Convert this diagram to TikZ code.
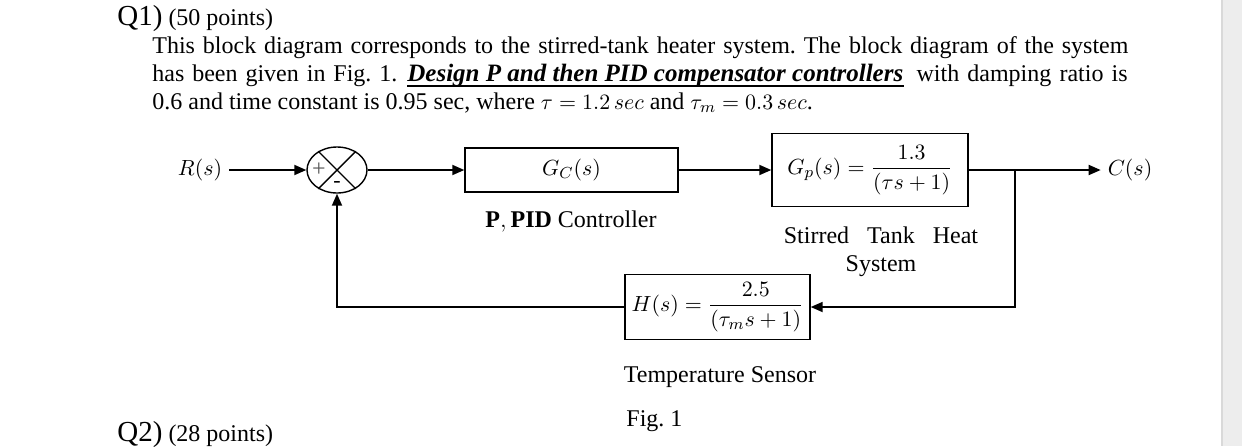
\documentclass[tikz,border=0pt]{standalone}
\usepackage{amsmath}
\usepackage{fontspec}
\setmainfont{Liberation Serif}
\usetikzlibrary{arrows.meta, positioning, shapes}
\frenchspacing

\begin{document}
\begin{tikzpicture}[x=0.5pt, y=-0.5pt, >={Triangle[length=6pt, width=5pt]},
  every node/.style={font=\fontsize{12}{14}\selectfont},
  txt/.style={anchor=base west, inner sep=0pt},
  block/.style={draw, line width=0.7pt, inner sep=2pt, font=\fontsize{11}{13}\selectfont},
  wire/.style={line width=0.9pt}]
\useasboundingbox (0,0) rectangle (1242,446);
\fill[black!7] (1222,0) rectangle (1242,446);
\draw[black!15, line width=0.6pt] (1222,0) -- (1222,446);

% question text
\node[txt] (q1) at (117,25) {{\fontsize{14.5}{16}\selectfont Q1)} (50 points)};
\node[txt] (line1) at (152,53) {\makebox[488pt][s]{This block diagram corresponds to the stirred-tank heater system. The block diagram of the system}};
\node[txt] (line2a) at (152,81) {\makebox[122.5pt][s]{has been given in Fig. 1.}};
\node[txt, font=\fontsize{12.5}{14}\selectfont] (design) at (407,81) {\textbf{\textit{Design P and then PID compensator controllers}}};
\node[txt, anchor=base east] (line2c) at (1128,81) {\makebox[105.5pt][s]{with damping ratio is}};
\draw[line width=1pt] ([yshift=-2.4pt]design.base west) -- ([yshift=-2.4pt]design.base east);
\node[txt] (line3) at (152,109) {0.6 and time constant is 0.95 sec, where {\fontsize{11}{13}\selectfont$\tau = 1.2\,sec$} and {\fontsize{11}{13}\selectfont$\tau_m = 0.3\,sec$}.};

% block diagram
\node[font=\fontsize{11}{13}\selectfont] (rin) at (200,170) {$R(s)$};
\node[draw, ellipse, line width=0.7pt, minimum width=30pt, minimum height=23pt, inner sep=0pt] (sum) at (337,170) {};
\draw[line width=0.7pt] (sum.135) -- (sum.-45);
\draw[line width=0.7pt] (sum.45) -- (sum.-135);
\node[inner sep=0pt, font=\fontsize{12}{12}\selectfont, black!65] (plus) at ([xshift=-9pt]sum.center) {+};
\node[inner sep=0pt, font=\fontsize{11}{11}\selectfont] (minus) at ([yshift=-7pt]sum.center) {-};
\node[block, minimum width=106.5pt, minimum height=22pt] (gc) at (571.5,170) {$G_C(s)$};
\node[block, minimum width=98pt, minimum height=36.5pt] (gp) at (870,170) {$G_p(s) = \dfrac{1.3}{(\tau s + 1)}$};
\coordinate (branch) at (1015,170);
\node[font=\fontsize{11}{13}\selectfont] (cout) at (1130,170) {$C(s)$};
\node[block, minimum width=92.5pt, minimum height=32.5pt] (hs) at (717.5,307) {$H(s) = \dfrac{2.5}{(\tau_m s + 1)}$};

\draw[wire, ->] (rin) -- (sum);
\draw[wire, ->] (sum) -- (gc);
\draw[wire, ->] (gc) -- (gp);
\draw[wire] (gp) -- (branch);
\draw[wire, ->] (branch) -- (cout);
\draw[wire, ->] (branch) |- (hs.east);
\draw[wire, ->] (hs.west) -| (sum.south);

% labels
\node (gclabel) at (571,221) {$\mathbf{P},\mathbf{PID}$ Controller};
\node[align=center] (gplabel) at (881,252) {Stirred\enspace\ Tank\enspace\ Heat\\System};
\node (hslabel) at (720,377) {Temperature Sensor};
\node[txt] (fig) at (626,426) {Fig. 1};
\node[txt] (q2) at (117,441) {{\fontsize{14.5}{16}\selectfont Q2)} (28 points)};
\end{tikzpicture}
\end{document}
